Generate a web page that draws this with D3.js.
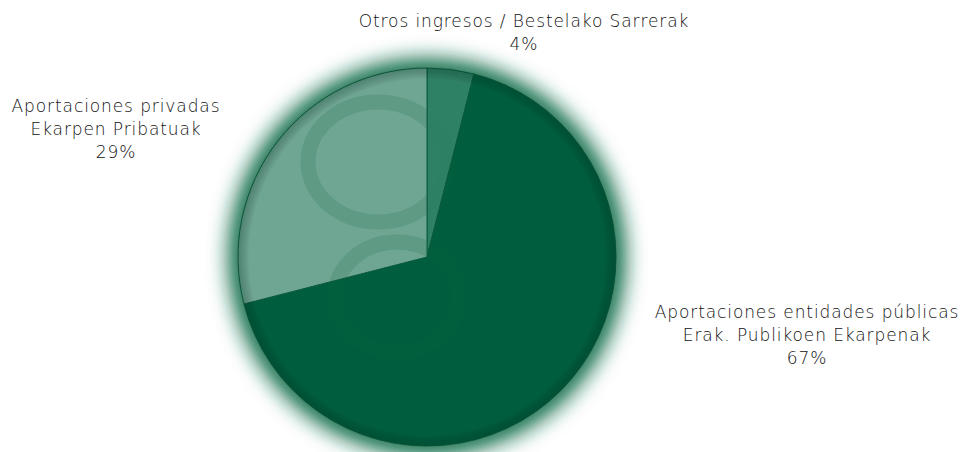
<!DOCTYPE html>
<html>
<head>
<meta charset="utf-8">
<script src="https://cdn.jsdelivr.net/npm/d3@7"></script>
<style>
  body { margin: 0; background: #fff; }
  svg text { font-family: "DejaVu Sans", sans-serif; font-weight: 200; fill: #111; }
</style>
</head>
<body>
<div id="chart"></div>
<script>
// Chart data
const labelsEs = ["Otros ingresos", "Aportaciones entidades públicas", "Aportaciones privadas"];
const labelsEu = ["Bestelako Sarrerak", "Erak. Publikoen Ekarpenak", "Ekarpen Pribatuak"];
const shares = [4, 67, 29];
const colors = ["#2f8166", "#005e3e", "#6fa693"];

const width = 968, height = 452;
const cx = 427, cy = 257, r = 189;

const svg = d3.select("#chart").append("svg")
  .attr("width", width)
  .attr("height", height);

const defs = svg.append("defs");

// glow round the pie
const glow = defs.append("filter").attr("id", "glow")
  .attr("x", "-30%").attr("y", "-30%").attr("width", "160%").attr("height", "160%");
glow.append("feGaussianBlur").attr("stdDeviation", 10);

const rim = defs.append("radialGradient").attr("id", "rim");
rim.append("stop").attr("offset", "0.94").attr("stop-color", "#000").attr("stop-opacity", 0);
rim.append("stop").attr("offset", "1").attr("stop-color", "#003322").attr("stop-opacity", 0.3);

const pie = d3.pie().sort(null).value(d => d);
const arcs = pie(shares);
const arc = d3.arc().innerRadius(0).outerRadius(r);

// clip for the light slice, where the rings show most
defs.append("clipPath").attr("id", "lightClip")
  .append("path")
  .attr("transform", `translate(${cx},${cy})`)
  .attr("d", arc(arcs[2]));
defs.append("clipPath").attr("id", "pieClip")
  .append("circle").attr("cx", cx).attr("cy", cy).attr("r", r);

const g = svg.append("g");

g.append("circle")
  .attr("cx", cx).attr("cy", cy).attr("r", r + 10)
  .attr("fill", "#16704d")
  .attr("filter", "url(#glow)");

const pieG = g.append("g").attr("transform", `translate(${cx},${cy})`);

pieG.selectAll("path.slice")
  .data(arcs)
  .join("path")
  .attr("class", "slice")
  .attr("d", arc)
  .attr("fill", (d, i) => colors[i])
  .attr("stroke", "#0b5a3e")
  .attr("stroke-width", 1);

// decorative rings
const rings = [
  { dx: -49, dy: -95, rx: 70, ry: 60 },
  { dx: -30, dy: 40, rx: 62, ry: 55 }
];
[["lightClip", 0.18], ["pieClip", 0.05]].forEach(([clip, op]) => {
  const deco = g.append("g").attr("clip-path", `url(#${clip})`);
  rings.forEach(c => {
    deco.append("ellipse")
      .attr("cx", cx + c.dx).attr("cy", cy + c.dy)
      .attr("rx", c.rx).attr("ry", c.ry)
      .attr("fill", "none")
      .attr("stroke", "#1f6f52").attr("stroke-opacity", op)
      .attr("stroke-width", 15);
  });
});

g.append("circle")
  .attr("cx", cx).attr("cy", cy).attr("r", r)
  .attr("fill", "url(#rim)");

// labels
const labelPos = [
  { x: 524, y: 21, lines: [labelsEs[0] + " / " + labelsEu[0], shares[0] + "%"] },
  { x: 807, y: 312, lines: [labelsEs[1], labelsEu[1], shares[1] + "%"] },
  { x: 116, y: 106, lines: [labelsEs[2], labelsEu[2], shares[2] + "%"] }
];

labelPos.forEach(l => {
  const t = svg.append("text")
    .attr("text-anchor", "middle")
    .attr("font-size", 17)
    .attr("letter-spacing", 0.9);
  l.lines.forEach((s, i) => {
    t.append("tspan")
      .attr("x", l.x)
      .attr("y", l.y + i * 23)
      .attr("dy", "0.35em")
      .text(s);
  });
});
</script>
</body>
</html>
